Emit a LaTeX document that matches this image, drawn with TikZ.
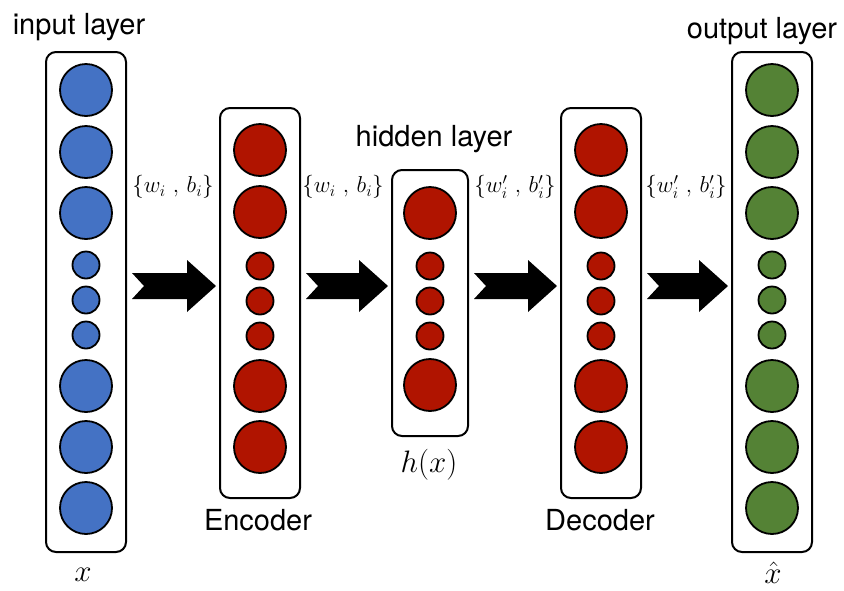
\RequirePackage{fix-cm}
\documentclass[tikz,border=0pt]{standalone}
\usepackage{fontspec}
\setsansfont{TeX Gyre Heros}
\usetikzlibrary{calc}
\definecolor{nblue}{HTML}{4472C4}
\definecolor{nred}{HTML}{B01400}
\definecolor{ngreen}{HTML}{548235}
\begin{document}
\begin{tikzpicture}[x=1pt,y=-1pt,
  layerbox/.style={draw=black,line width=2pt,rounded corners=10pt,minimum width=80pt,inner sep=0pt},
  big/.style={circle,draw=black,line width=1.8pt,minimum size=52pt,inner sep=0pt},
  small/.style={circle,draw=black,line width=1.8pt,minimum size=27pt,inner sep=0pt},
  lbl/.style={font=\sffamily\fontsize{29}{32}\selectfont,inner sep=0pt},
  wlbl/.style={font=\fontsize{23}{26}\selectfont,inner sep=0pt},
  mlbl/.style={font=\fontsize{31}{34}\selectfont,inner sep=0pt}]
\useasboundingbox (0,0) rectangle (844,590);
% boxes
\node[layerbox,minimum height=500pt] (inbox) at (86,302) {};
\node[layerbox,minimum height=390pt] (encbox) at (260,303) {};
\node[layerbox,minimum height=266pt,minimum width=76pt] (hidbox) at (430,303) {};
\node[layerbox,minimum height=390pt] (decbox) at (601,303) {};
\node[layerbox,minimum height=500pt] (outbox) at (772,302) {};
% input and output neurons
\foreach \y/\s [count=\i] in {90/big,152/big,213/big,265/small,300/small,335/small,386/big,447/big,508/big}{
  \node[\s,fill=nblue] (in\i) at (86,\y) {};
  \node[\s,fill=ngreen] (out\i) at (772,\y) {};
}
% encoder and decoder neurons
\foreach \y/\s [count=\i] in {150/big,212/big,266/small,301/small,336/small,386/big,447/big}{
  \node[\s,fill=nred] (enc\i) at (260,\y) {};
  \node[\s,fill=nred] (dec\i) at (601,\y) {};
}
% hidden neurons
\foreach \y/\s [count=\i] in {213/big,266/small,301/small,336/small,385/big}{
  \node[\s,fill=nred] (hid\i) at (430,\y) {};
}
% labels
\node[lbl] (tin) at (79,27) {input layer};
\node[lbl] (thid) at (434,139) {hidden layer};
\node[lbl] (tout) at (762,31) {output layer};
\node[lbl] (tenc) at (258,520) {Encoder};
\node[lbl] (tdec) at (600,520) {Decoder};
\node[mlbl] (thx) at (429,465) {$h(x)$};
\node[mlbl] (tx) at (83,575) {$x$};
\node[mlbl] (txh) at (773,573) {$\hat{x}$};
\node[wlbl] (w1) at (173,187) {$\{w_i\ ,\,b_i\}$};
\node[wlbl] (w2) at (343,187) {$\{w_i\ ,\,b_i\}$};
\node[wlbl] (w3) at (515,187) {$\{w_i'\ ,\,b_i'\}$};
\node[wlbl] (w4) at (686,187) {$\{w_i'\ ,\,b_i'\}$};
% fat arrows
\newcommand\fatarrow[2]{%
  \coordinate (s) at ($(#1.east |- 0,286)+(5,0)$);
  \coordinate (e) at ($(#2.west |- 0,286)+(-3,0)$);
  \fill[black] ($(s)+(0,-13)$) -- ($(e)+(-29,-13)$) -- ($(e)+(-29,-26)$) -- (e)
    -- ($(e)+(-29,26)$) -- ($(e)+(-29,13)$) -- ($(s)+(0,13)$) -- ($(s)+(12,0)$) -- cycle;}
\fatarrow{inbox}{encbox}
\fatarrow{encbox}{hidbox}
\fatarrow{hidbox}{decbox}
\fatarrow{decbox}{outbox}
\end{tikzpicture}
\end{document}
